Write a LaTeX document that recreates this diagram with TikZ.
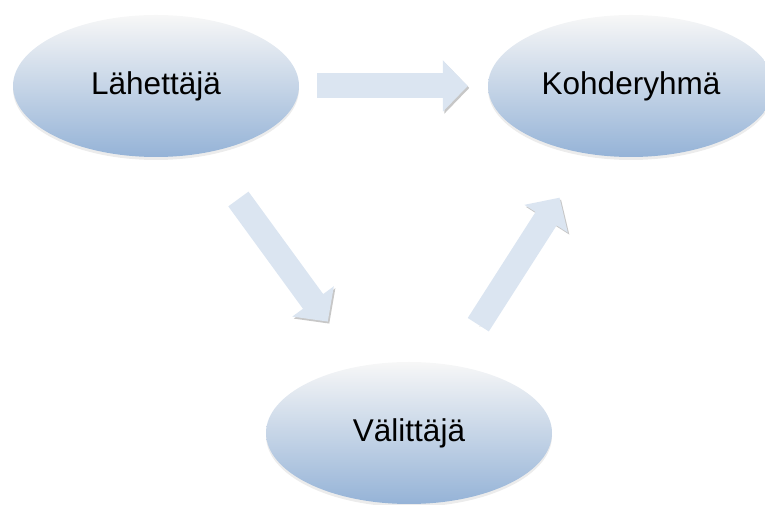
\documentclass[tikz,border=0pt]{standalone}
\usepackage{fontspec}
\setmainfont{Liberation Sans}
\usepackage{xcolor}
\usetikzlibrary{shapes.geometric,shadows,arrows.meta}

\definecolor{palecap}{HTML}{F7F7F7}
\definecolor{midblue}{HTML}{CBD8EA}
\definecolor{deepblue}{HTML}{95B3D7}
\definecolor{arrowblue}{HTML}{DBE5F1}

\begin{document}
\begin{tikzpicture}[
            x=1pt, y=1pt,
            node distance=475pt,
            every node/.style={ellipse, minimum width=286pt, minimum height=142pt, inner sep=0pt,
                top color=palecap, middle color=midblue, bottom color=deepblue,
                drop shadow={shadow xshift=0pt, shadow yshift=-3pt, opacity=0.15},
                font=\fontsize{31.5}{38}\selectfont},
            blockarrow/.style={draw=arrowblue, line width=25pt,
                -{Triangle[length=25pt, width=50pt]},
                preaction={draw=black!22, transform canvas={shift={(1.5pt,-2pt)}}}}
        ]
        \useasboundingbox (0,0) rectangle (765,505);

        % Nodes
        \node (lah) at (156,419) {Lähettäjä};
        \node (koh) [right of=lah] {Kohderyhmä};
        \node (val) [below of=lah, xshift=253pt, yshift=128pt] {Välittäjä};

        % Arrows
        \draw[blockarrow, shorten <=18pt, shorten >=20pt] (lah) -- (koh);
        \draw[blockarrow, shorten <=57pt, shorten >=55pt] (lah) -- (val);
        \draw[blockarrow, shorten <=48pt, shorten >=52pt] (val) -- (koh);
        \end{tikzpicture}
\end{document}
